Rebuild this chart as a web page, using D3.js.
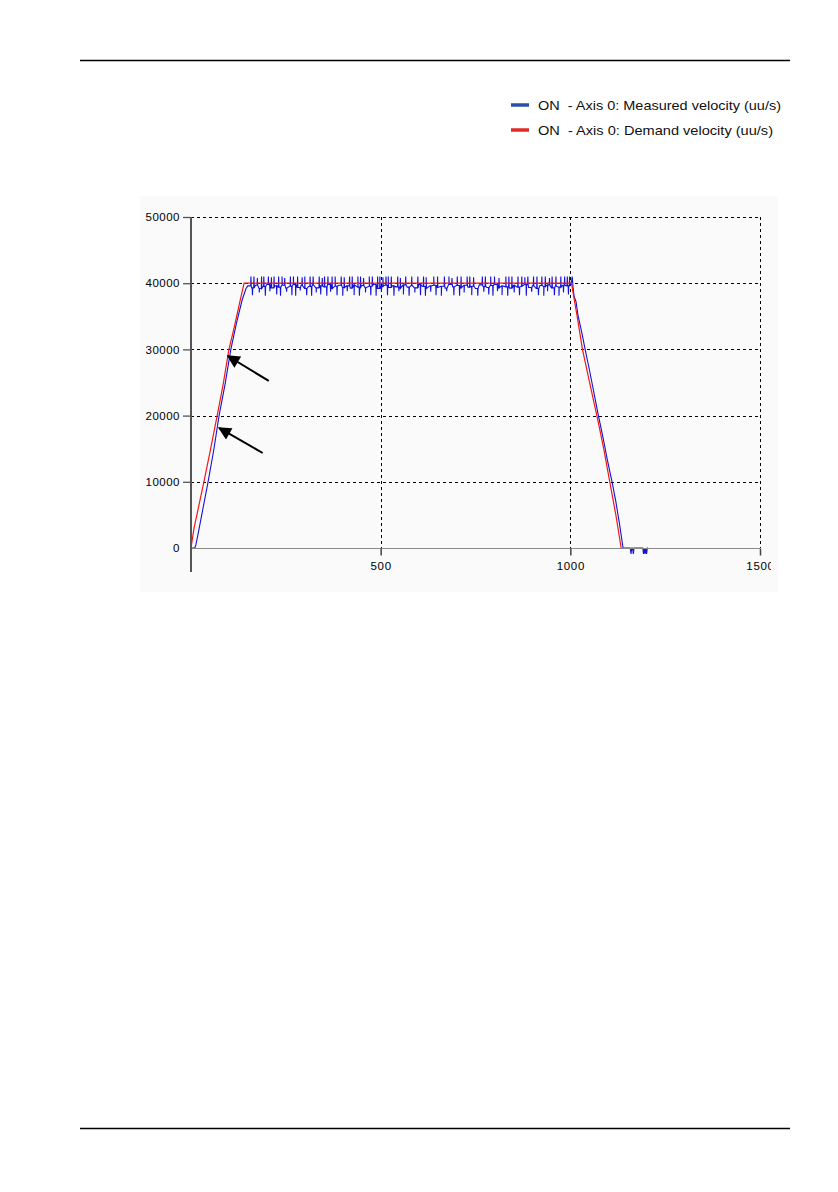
<!DOCTYPE html>
<html>
<head>
<meta charset="utf-8">
<script src="https://cdn.jsdelivr.net/npm/d3@7"></script>
<style>
  html, body { margin: 0; padding: 0; background: #ffffff; }
  svg { display: block; }
  text { font-family: "Liberation Sans", Arial, sans-serif; }
</style>
</head>
<body>
<svg id="chart" width="838" height="1192"></svg>
<script>
// ---------- DATA ----------
const seriesNames = ["ON  - Axis 0: Measured velocity (uu/s)", "ON  - Axis 0: Demand velocity (uu/s)"];
const seriesColors = ["#2b4fa8", "#e02a2a"];
const xTicks = [0, 500, 1000, 1500];
const yTicks = [0, 10000, 20000, 30000, 40000, 50000];

// Demand velocity (red)
const demand = [
  [0, 0], [8, 3000], [20, 6200], [34, 10000], [50, 14500], [69, 20000], [85, 24800],
  [100, 30000], [115, 33600], [128, 37000], [140, 40000], [1003, 40000],
  [1018, 35000], [1032, 30000], [1050, 25200], [1070, 20000], [1088, 15000],
  [1104, 10000], [1120, 5000], [1134, 0]
];

// Measured velocity (blue): ramp up
const measuredUp = [
  [0, 0], [10, 0], [13, 500], [20, 2500], [30, 5500], [45, 10000], [60, 14800],
  [74, 20000], [90, 24800], [105, 30000], [120, 34000], [135, 37500], [145, 39200], [150, 39600]
];
// Measured velocity: plateau baseline, t = 150 .. 1000 every 10
const plateauStart = 150, plateauStep = 10;
const plateauBase = [
  39600,39300,39700,39200,39500,39800,39300,39600,39400,39700,
  39250,39550,39800,39350,39650,39200,39500,39750,39300,39600,
  39450,39800,39200,39550,39700,39350,39600,39250,39750,39400,
  39650,39300,39550,39800,39200,39500,39700,39350,39600,39450,
  39250,39750,39400,39650,39300,39800,39500,39200,39600,39700,
  39350,39550,39250,39800,39450,39650,39300,39700,39400,39550,
  39200,39750,39500,39350,39650,39800,39300,39600,39450,39250,
  39700,39400,39550,39800,39350,39600,39200,39650,39500,39750,
  39300,39550,39400,39700,39600,39800
];
// Measured velocity: noise spikes on the plateau [t, value]
const spikesUp = [
  [158,41000],[166,41000],[175,40800],[186,41000],[192,41000],[204,41000],[212,40900],[219,41000],
  [231,41000],[240,41000],[247,40800],[262,41000],[270,41000],[281,41000],[293,40900],[300,41000],
  [314,41000],[322,41000],[338,41000],[346,40800],[352,41000],[361,41000],[372,41000],[380,41000],
  [396,41000],[404,40900],[418,41000],[425,41000],[440,41000],[447,41000],[455,40800],[470,41000],
  [478,41000],[492,41000],[498,41000],[506,40900],[514,41000],[520,41000],[528,41000],[545,41000],
  [552,40800],[566,41000],[582,41000],[598,41000],[613,41000],[620,40900],[640,41000],[650,41000],
  [668,41000],[680,41000],[688,40800],[702,41000],[712,41000],[728,41000],[735,41000],[745,40900],
  [768,41000],[776,41000],[790,41000],[800,41000],[812,40800],[830,41000],[838,41000],[846,41000],
  [862,41000],[872,41000],[880,40900],[888,41000],[903,41000],[912,41000],[925,41000],[934,41000],
  [945,40800],[952,41000],[962,41000],[975,41000],[985,41000],[992,41000],[998,41000]
];
const spikesDown = [
  [162,38200],[180,38600],[196,38100],[208,38800],[226,38300],[236,38100],[252,38700],[266,38200],
  [276,38100],[288,38900],[305,38200],[318,38100],[330,38600],[342,38300],[358,38100],[368,38700],
  [385,38200],[400,38100],[412,38800],[430,38200],[444,38100],[460,38600],[474,38200],[488,38100],
  [502,38700],[518,38200],[535,38100],[548,38800],[560,38300],[575,38100],[590,38600],[605,38200],
  [618,38100],[632,38700],[646,38200],[660,38100],[674,38800],[693,38200],[708,38100],[720,38600],
  [740,38200],[756,38100],[772,38700],[785,38300],[796,38100],[808,38800],[820,38200],[835,38100],
  [852,38600],[866,38200],[884,38100],[898,38700],[916,38200],[930,38100],[940,38800],[958,38200],
  [970,38100],[982,38600],[995,38300]
];
// Measured velocity: ramp down and tail
const measuredDown = [
  [1002, 39800], [1005, 41000], [1007, 39500], [1010, 38000], [1015, 37200], [1020, 35200], [1030, 32600],
  [1039, 30000], [1050, 27000], [1062, 23500], [1074, 20000], [1085, 17000], [1098, 13200],
  [1110, 10000], [1120, 7000], [1130, 3500], [1139, 0], [1158, 0], [1160, -900], [1162, 0],
  [1164, 0], [1166, -900], [1168, 0], [1191, 0], [1193, -900], [1195, 0], [1197, -900],
  [1199, 0], [1201, -900], [1203, 0], [1205, 0]
];

// Annotation arrows: [tailT, tailV, tipT, tipV]
const arrows = [
  [205, 25230, 97, 29000],
  [189, 14350, 74, 18130]
];

// ---------- BUILD SERIES ----------
const plateau = plateauBase.map((v, i) => [plateauStart + i * plateauStep, v]);
function baseAt(t) {
  let v = plateau[0][1];
  for (const p of plateau) if (p[0] <= t) v = p[1];
  return v;
}
const spikePts = [];
spikesUp.concat(spikesDown).forEach(([t, v]) => {
  const b = baseAt(t);
  spikePts.push([t - 0.7, b], [t, v], [t + 0.7, b]);
});
const plateauAll = plateau.concat(spikePts).sort((a, b) => a[0] - b[0]);
const measured = measuredUp.concat(plateauAll.filter(d => d[0] > 150 && d[0] < 1001)).concat(measuredDown);

// ---------- DRAW ----------
const svg = d3.select("#chart");

// page rules
svg.append("line").attr("x1", 80).attr("x2", 790).attr("y1", 60.5).attr("y2", 60.5)
  .attr("stroke", "#000").attr("stroke-width", 1.3);
svg.append("line").attr("x1", 80).attr("x2", 790).attr("y1", 1128.5).attr("y2", 1128.5)
  .attr("stroke", "#000").attr("stroke-width", 1.3);

// chart background
svg.append("rect").attr("x", 140).attr("y", 196).attr("width", 638).attr("height", 396)
  .attr("fill", "#fafafa");

const x = d3.scaleLinear().domain([0, 1500]).range([191, 760]);
const y = d3.scaleLinear().domain([0, 50000]).range([548, 217]);

const defs = svg.append("defs");
defs.append("clipPath").attr("id", "clipChart").append("rect")
  .attr("x", 130).attr("y", 190).attr("width", 641).attr("height", 410);
defs.append("marker").attr("id", "arrowHead").attr("viewBox", "0 0 10 10")
  .attr("refX", 9).attr("refY", 5).attr("markerWidth", 7.5).attr("markerHeight", 6.5)
  .attr("markerUnits", "strokeWidth").attr("orient", "auto")
  .append("path").attr("d", "M0,0 L10,5 L0,10 Z").attr("fill", "#000");

const g = svg.append("g").attr("clip-path", "url(#clipChart)");

// gridlines
g.append("g").selectAll("line").data(yTicks.filter(d => d > 0)).join("line")
  .attr("x1", x(0)).attr("x2", x(1500))
  .attr("y1", d => Math.round(y(d)) + 0.5).attr("y2", d => Math.round(y(d)) + 0.5)
  .attr("stroke", "#000").attr("stroke-width", 1).attr("stroke-dasharray", "3,3");
g.append("g").selectAll("line").data(xTicks.filter(d => d > 0)).join("line")
  .attr("x1", d => Math.round(x(d)) + 0.5).attr("x2", d => Math.round(x(d)) + 0.5)
  .attr("y1", y(50000)).attr("y2", y(0))
  .attr("stroke", "#000").attr("stroke-width", 1).attr("stroke-dasharray", "3,3");

// data lines
const line = d3.line().x(d => x(d[0])).y(d => y(d[1]));
g.append("path").datum(measured).attr("d", line)
  .attr("fill", "none").attr("stroke", "#1212d8").attr("stroke-width", 1.1);
g.append("path").datum(demand).attr("d", line)
  .attr("fill", "none").attr("stroke", "#f01818").attr("stroke-width", 1.2);

// x axis
const xAxis = d3.axisBottom(x).tickValues(xTicks.filter(d => d > 0)).tickSize(7).tickPadding(6).tickFormat(d3.format("d"));
const xg = g.append("g").attr("transform", `translate(0,${y(0) + 0.5})`).call(xAxis);
xg.select(".domain").attr("stroke", "#8a8a8a").attr("d", `M${x(0)},0H${x(1500)}`);
xg.selectAll(".tick line").attr("stroke", "#444").attr("stroke-width", 1.5);
xg.selectAll(".tick text").attr("fill", "#000").style("font-size", "11.5px").style("letter-spacing", "0.7px")
  .style("font-family", "'Liberation Sans', Arial, sans-serif");

// y axis
const yAxis = d3.axisLeft(y).tickValues(yTicks).tickSize(8).tickPadding(3).tickFormat(d3.format("d"));
const yg = g.append("g").attr("transform", `translate(${x(0)},0)`).call(yAxis);
yg.select(".domain").attr("stroke", "#555").attr("stroke-width", 2).attr("d", `M0,${y(50000)}V572`);
yg.selectAll(".tick line").attr("stroke", "#555").attr("stroke-width", 1.3);
yg.selectAll(".tick").filter(d => d === 0).select("line").remove();
yg.selectAll(".tick text").attr("fill", "#000").style("font-size", "11.5px").style("letter-spacing", "0.5px")
  .style("font-family", "'Liberation Sans', Arial, sans-serif");

// arrows
svg.append("g").selectAll("line").data(arrows).join("line")
  .attr("x1", d => x(d[0])).attr("y1", d => y(d[1]))
  .attr("x2", d => x(d[2])).attr("y2", d => y(d[3]))
  .attr("stroke", "#000").attr("stroke-width", 2).attr("marker-end", "url(#arrowHead)");

// legend
const legend = svg.append("g");
const legendY = [105, 130];
const legendLen = [243, 235];
seriesNames.forEach((name, i) => {
  legend.append("line").attr("x1", 511).attr("x2", 529).attr("y1", legendY[i]).attr("y2", legendY[i])
    .attr("stroke", seriesColors[i]).attr("stroke-width", 3.5);
  legend.append("text").attr("x", 538).attr("y", legendY[i] + 5)
    .attr("textLength", legendLen[i]).attr("lengthAdjust", "spacingAndGlyphs")
    .style("font-size", "13.5px").attr("fill", "#111").attr("xml:space", "preserve")
    .style("white-space", "pre").text(name);
});
</script>
</body>
</html>
